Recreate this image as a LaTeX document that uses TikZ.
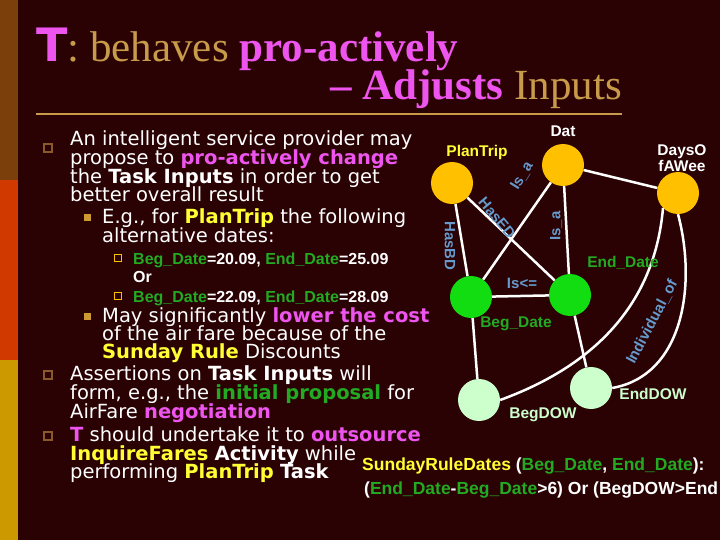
\documentclass[tikz,border=0pt]{standalone}
\usepackage{fontspec}
\setmainfont{DejaVu Sans}
\newfontfamily\titlefont{Liberation Serif}
\newfontfamily\arialf{Liberation Sans}
\definecolor{bg}{HTML}{2A0204}
\definecolor{pk}{HTML}{EE55EE}
\definecolor{gr}{HTML}{22AA22}
\definecolor{yl}{HTML}{FFFF33}
\definecolor{tan}{HTML}{C89B4A}
\definecolor{gold}{HTML}{FFC000}
\definecolor{lime}{HTML}{11DD11}
\definecolor{pale}{HTML}{CCFFCC}
\definecolor{bl}{HTML}{6699CC}
\definecolor{bul}{HTML}{8B5A2B}
\definecolor{bul2}{HTML}{CC9933}
\definecolor{s1}{HTML}{7A3F0A}
\definecolor{s2}{HTML}{D03A00}
\definecolor{s3}{HTML}{CC9900}
\begin{document}
\begin{tikzpicture}[x=1pt,y=-1pt,
  ln/.style={anchor=base west,inner sep=0pt,text=white,font=\fontsize{19.5}{19.5}\selectfont},
  sm/.style={anchor=base west,inner sep=0pt,text=white,font=\arialf\bfseries\fontsize{16}{16}\selectfont},
  fm/.style={anchor=base west,inner sep=0pt,text=white,font=\arialf\bfseries\fontsize{17.5}{17.5}\selectfont},
  vx/.style={circle,minimum size=42pt,inner sep=0pt,draw=none},
  el/.style={text=bl,font=\arialf\bfseries\fontsize{15}{15}\selectfont,inner sep=0pt},
  nl/.style={font=\arialf\bfseries\fontsize{15.5}{15.5}\selectfont,inner sep=0pt,align=center},
  ed/.style={draw=white,line width=2.5pt},
  b1/.style={draw=bul,line width=1.2pt,minimum size=8pt,inner sep=0pt},
  b2/.style={fill=bul2,minimum size=7pt,inner sep=0pt},
  b3/.style={draw=gold,line width=1.5pt,minimum size=7pt,inner sep=0pt}]
\useasboundingbox (0,0) rectangle (720,540);
\fill[bg] (0,0) rectangle (720,540);
\fill[s1] (0,0) rectangle (18,180);
\fill[s2] (0,180) rectangle (18,360);
\fill[s3] (0,360) rectangle (18,540);
\draw[tan,line width=1.5pt] (36,114) -- (622,114);
% title
\node[anchor=base west,inner sep=0pt] (t1) at (36,62) {\textcolor{pk}{\bfseries\fontsize{46}{46}\selectfont T}\titlefont\fontsize{43}{43}\selectfont\textcolor{tan}{: behaves }\textcolor{pk}{\bfseries pro-actively}};
\node[anchor=base east,inner sep=0pt] (t2) at (622,100) {\titlefont\fontsize{43}{43}\selectfont\textcolor{pk}{\bfseries \char"2013\ Adjusts }\textcolor{tan}{Inputs}};
% bullets
\node[b1] (p1) at (48,148) {};
\node[ln] (l1) at (70,146) {An intelligent service provider may};
\node[ln] (l2) at (70,165) {propose to \textcolor{pk}{\bfseries pro-actively change}};
\node[ln] (l3) at (70,184) {the \textbf{Task Inputs} in order to get};
\node[ln] (l4) at (70,202) {better overall result};
\node[b2] (p2) at (87,218) {};
\node[ln] (l5) at (102,224) {E.g., for \textcolor{yl}{\bfseries PlanTrip} the following};
\node[ln] (l6) at (102,242) {alternative dates:};
\node[b3] (p3) at (118,258) {};
\node[sm] (l7) at (133,264) {\textcolor{gr}{Beg\_Date}=20.09, \textcolor{gr}{End\_Date}=25.09};
\node[sm] (l8) at (133,282) {Or};
\node[b3] (p4) at (118,296) {};
\node[sm] (l9) at (133,302) {\textcolor{gr}{Beg\_Date}=22.09, \textcolor{gr}{End\_Date}=28.09};
\node[b2] (p5) at (87,316) {};
\node[ln] (l10) at (102,322) {May significantly \textcolor{pk}{\bfseries lower the cost}};
\node[ln] (l11) at (102,340) {of the air fare because of the};
\node[ln] (l12) at (102,358) {\textcolor{yl}{\bfseries Sunday Rule} Discounts};
\node[b1] (p6) at (48,375) {};
\node[ln] (l13) at (70,380) {Assertions on \textbf{Task Inputs} will};
\node[ln] (l14) at (70,399) {form, e.g., the \textcolor{gr}{\bfseries initial proposal} for};
\node[ln] (l15) at (70,418) {AirFare \textcolor{pk}{\bfseries negotiation}};
\node[b1] (p7) at (48,436) {};
\node[ln] (l16) at (70,441) {\textcolor{pk}{\bfseries T} should undertake it to \textcolor{pk}{\bfseries outsource}};
\node[ln] (l17) at (70,460) {\textcolor{yl}{\bfseries InquireFares} \textbf{Activity} while};
\node[ln] (l18) at (70,478) {performing \textcolor{yl}{\bfseries PlanTrip} \textbf{Task}};
% formula
\node[fm] (f1) at (362,470) {\textcolor{yl}{SundayRuleDates} (\textcolor{gr}{Beg\_Date}, \textcolor{gr}{End\_Date}):};
\node[fm] (f2) at (364,494) {(\textcolor{gr}{End\_Date}-\textcolor{gr}{Beg\_Date}>6) Or (BegDOW>End};
% graph
\node[vx,fill=gold] (pt) at (452,183) {};
\node[vx,fill=gold] (dat) at (563,165) {};
\node[vx,fill=gold] (dw) at (678,193) {};
\node[vx,fill=lime] (bd) at (471,297) {};
\node[vx,fill=lime] (edt) at (570,295) {};
\node[vx,fill=pale] (bdow) at (479,400) {};
\node[vx,fill=pale] (edow) at (591,388) {};
\path[ed] (pt) -- (bd) (pt) -- (edt) (dat) -- (bd) (dat) -- (edt) (dat) -- (dw) (bd) -- (edt) (bd) -- (bdow) (edt) -- (edow);
\path[ed] (dw.south west) to[out=-95,in=20] (bdow.east);
\path[ed] (dw.south) to[out=-75,in=10] (edow.east);
% node labels
\node[nl,text=yl] (lpt) at (477,152) {PlanTrip};
\node[nl,text=white] (ldat) at (563,131) {Dat};
\node[nl,text=white] (ldw) at (682,158) {DaysO\\fAWee};
\node[nl,text=gr] (led) at (623,263) {End\_Date};
\node[nl,text=gr] (lbd) at (516,324) {Beg\_Date};
\node[nl,text=pale] (leo) at (653,394) {EndDOW};
\node[nl,text=pale] (lbo) at (543,415) {BegDOW};
% edge labels
\node[el,rotate=-90] (e1) at (450,246) {HasBD};
\node[el,rotate=-50] (e2) at (497,218) {HasED};
\node[el,rotate=58] (e3) at (522,176) {Is\_a};
\node[el,rotate=90] (e4) at (556,226) {Is\_a};
\node[el] (e5) at (522,283) {Is<=};
\node[el,rotate=62] (e6) at (652,322) {Individual\_of};
\end{tikzpicture}
\end{document}
